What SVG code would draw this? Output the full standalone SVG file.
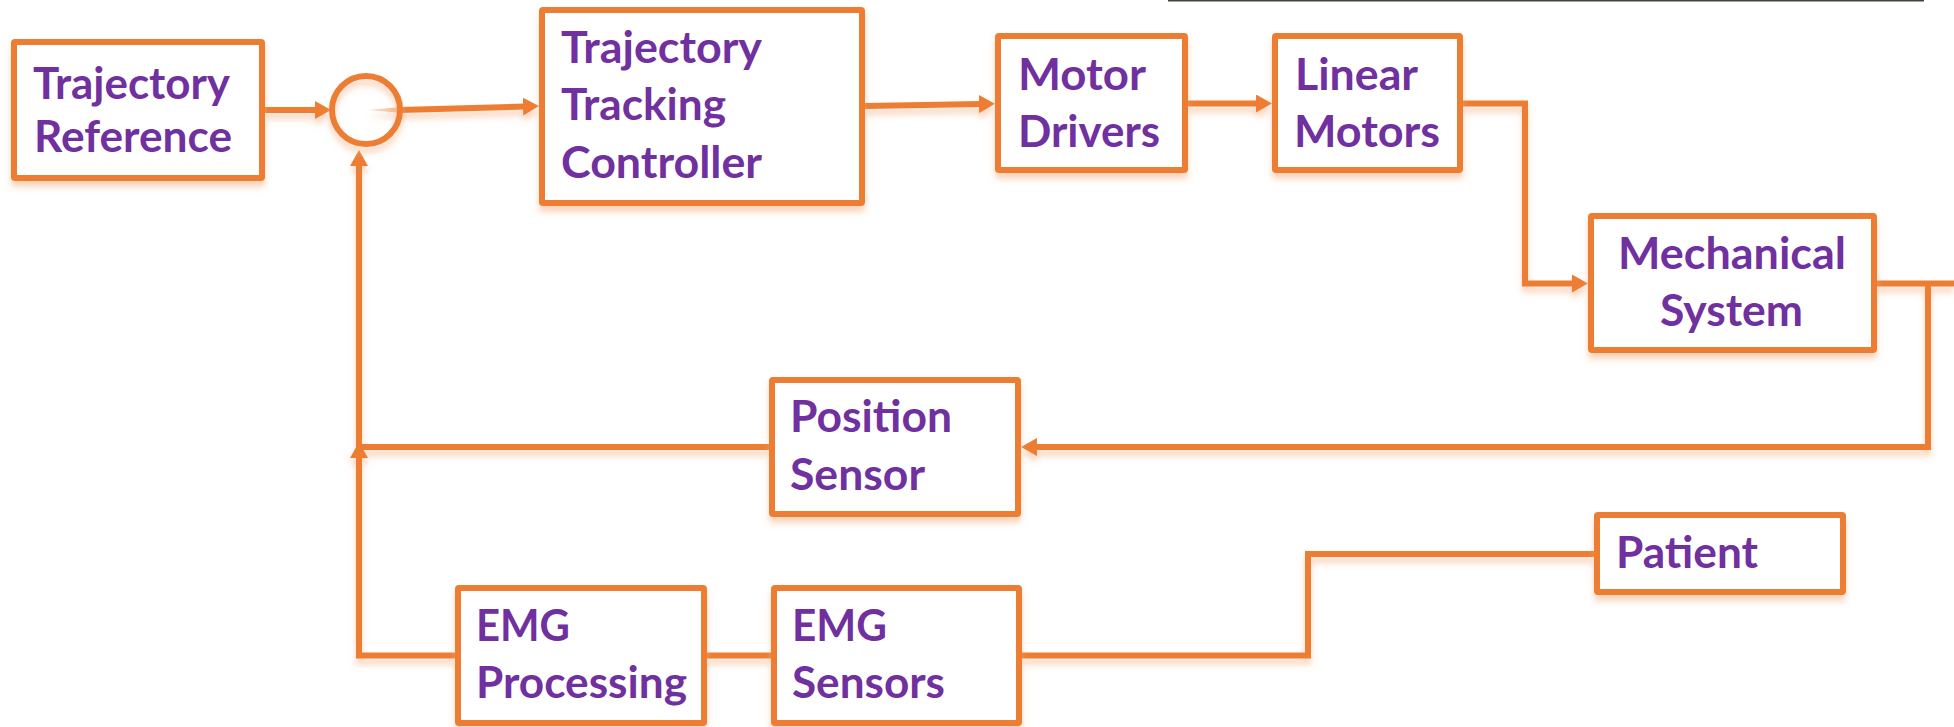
<svg xmlns="http://www.w3.org/2000/svg" width="1954" height="727" viewBox="0 0 1954 727">
<style>
.box{fill:#ffffff;stroke:#ED7D31;stroke-width:6;filter:url(#sh)}
.lbl{font-family:Lato,"Liberation Sans",sans-serif;font-weight:bold;font-size:43px;fill:#7030A0}
.c{fill:none;stroke:#ED7D31;stroke-width:6;stroke-linejoin:miter}
.arr{marker-end:url(#ah)}
</style>
<defs>
<filter id="sh" x="-10%" y="-10%" width="120%" height="130%">
<feGaussianBlur in="SourceAlpha" stdDeviation="3" result="b"/>
<feOffset in="b" dy="6" result="o"/>
<feFlood flood-color="#F4B183" flood-opacity="0.55"/>
<feComposite in2="o" operator="in" result="s"/>
<feMerge><feMergeNode in="s"/><feMergeNode in="SourceGraphic"/></feMerge>
</filter>
<marker id="ah" markerUnits="userSpaceOnUse" markerWidth="18" markerHeight="18" refX="2" refY="9" orient="auto">
<path d="M0,0 L16,9 L0,18 Z" fill="#ED7D31"/>
</marker>
<linearGradient id="ng" x1="0" y1="0" x2="1" y2="0">
<stop offset="0" stop-color="#FBE5D6"/>
<stop offset="1" stop-color="#F4B183"/>
</linearGradient>
</defs>
<line x1="1168" y1="0.8" x2="1924" y2="0.8" stroke="#47413b" stroke-width="1.6"/>
<g id="connectors" filter="url(#sh)">
<line class="c arr" x1="265" y1="110" x2="317" y2="110"/>
<polygon points="368,110 402,107 402,113" fill="url(#ng)"/>
<line class="c arr" x1="400" y1="110" x2="525" y2="106.5"/>
<line class="c arr" x1="865" y1="106" x2="981" y2="104"/>
<line class="c arr" x1="1188" y1="103.5" x2="1258" y2="103.5"/>
<polyline class="c arr" points="1463,103.5 1525,103.5 1525,283.5 1574,283.5"/>
<line class="c" x1="1876" y1="283.5" x2="1954" y2="283.5"/>
<polyline class="c arr" points="1928,283.5 1928,447 1035,447"/>
<polyline class="c arr" points="769,447 359,447 359,164"/>
<polyline class="c arr" points="455,655.5 359,655.5 359,456"/>
<line class="c" x1="707" y1="655.5" x2="771" y2="655.5"/>
<polyline class="c" points="1594,554 1308,554 1308,655.5 1022,655.5"/>
</g>
<g id="sum">
<circle cx="366" cy="110" r="34" fill="none" stroke="#ED7D31" stroke-width="6" filter="url(#sh)"/>
</g>
<g id="trajectory-reference">
<rect class="box" x="14" y="42" width="248" height="136" rx="1"/>
<text class="lbl" x="33" y="99" textLength="197" lengthAdjust="spacingAndGlyphs">Trajectory</text>
<text class="lbl" x="34" y="152" textLength="198" lengthAdjust="spacingAndGlyphs">Reference</text>
</g>
<g id="trajectory-tracking-controller">
<rect class="box" x="542" y="10" width="320" height="193" rx="1"/>
<text class="lbl" x="561" y="63" textLength="201" lengthAdjust="spacingAndGlyphs">Trajectory</text>
<text class="lbl" x="561" y="120" textLength="165" lengthAdjust="spacingAndGlyphs">Tracking</text>
<text class="lbl" x="561" y="178" textLength="201" lengthAdjust="spacingAndGlyphs">Controller</text>
</g>
<g id="motor-drivers">
<rect class="box" x="998" y="36" width="187" height="134" rx="1"/>
<text class="lbl" x="1018" y="90" textLength="128" lengthAdjust="spacingAndGlyphs">Motor</text>
<text class="lbl" x="1018" y="147" textLength="142" lengthAdjust="spacingAndGlyphs">Drivers</text>
</g>
<g id="linear-motors">
<rect class="box" x="1275" y="36" width="185" height="134" rx="1"/>
<text class="lbl" x="1295" y="90" textLength="123" lengthAdjust="spacingAndGlyphs">Linear</text>
<text class="lbl" x="1294" y="147" textLength="146" lengthAdjust="spacingAndGlyphs">Motors</text>
</g>
<g id="mechanical-system">
<rect class="box" x="1591" y="216" width="283" height="134" rx="1"/>
<text class="lbl" x="1618" y="269" textLength="228" lengthAdjust="spacingAndGlyphs">Mechanical</text>
<text class="lbl" x="1660" y="326" textLength="143" lengthAdjust="spacingAndGlyphs">System</text>
</g>
<g id="position-sensor">
<rect class="box" x="772" y="380" width="246" height="134" rx="1"/>
<text class="lbl" x="790" y="432" textLength="162" lengthAdjust="spacingAndGlyphs">Position</text>
<text class="lbl" x="790" y="490" textLength="135" lengthAdjust="spacingAndGlyphs">Sensor</text>
</g>
<g id="patient">
<rect class="box" x="1597" y="515" width="246" height="77" rx="1"/>
<text class="lbl" x="1616" y="568" textLength="142" lengthAdjust="spacingAndGlyphs">Patient</text>
</g>
<g id="emg-processing">
<rect class="box" x="458" y="588" width="246" height="135" rx="1"/>
<text class="lbl" x="476" y="641" textLength="94" lengthAdjust="spacingAndGlyphs">EMG</text>
<text class="lbl" x="476" y="698" textLength="211" lengthAdjust="spacingAndGlyphs">Processing</text>
</g>
<g id="emg-sensors">
<rect class="box" x="774" y="588" width="245" height="135" rx="1"/>
<text class="lbl" x="792" y="641" textLength="95" lengthAdjust="spacingAndGlyphs">EMG</text>
<text class="lbl" x="792" y="698" textLength="153" lengthAdjust="spacingAndGlyphs">Sensors</text>
</g>
</svg>
